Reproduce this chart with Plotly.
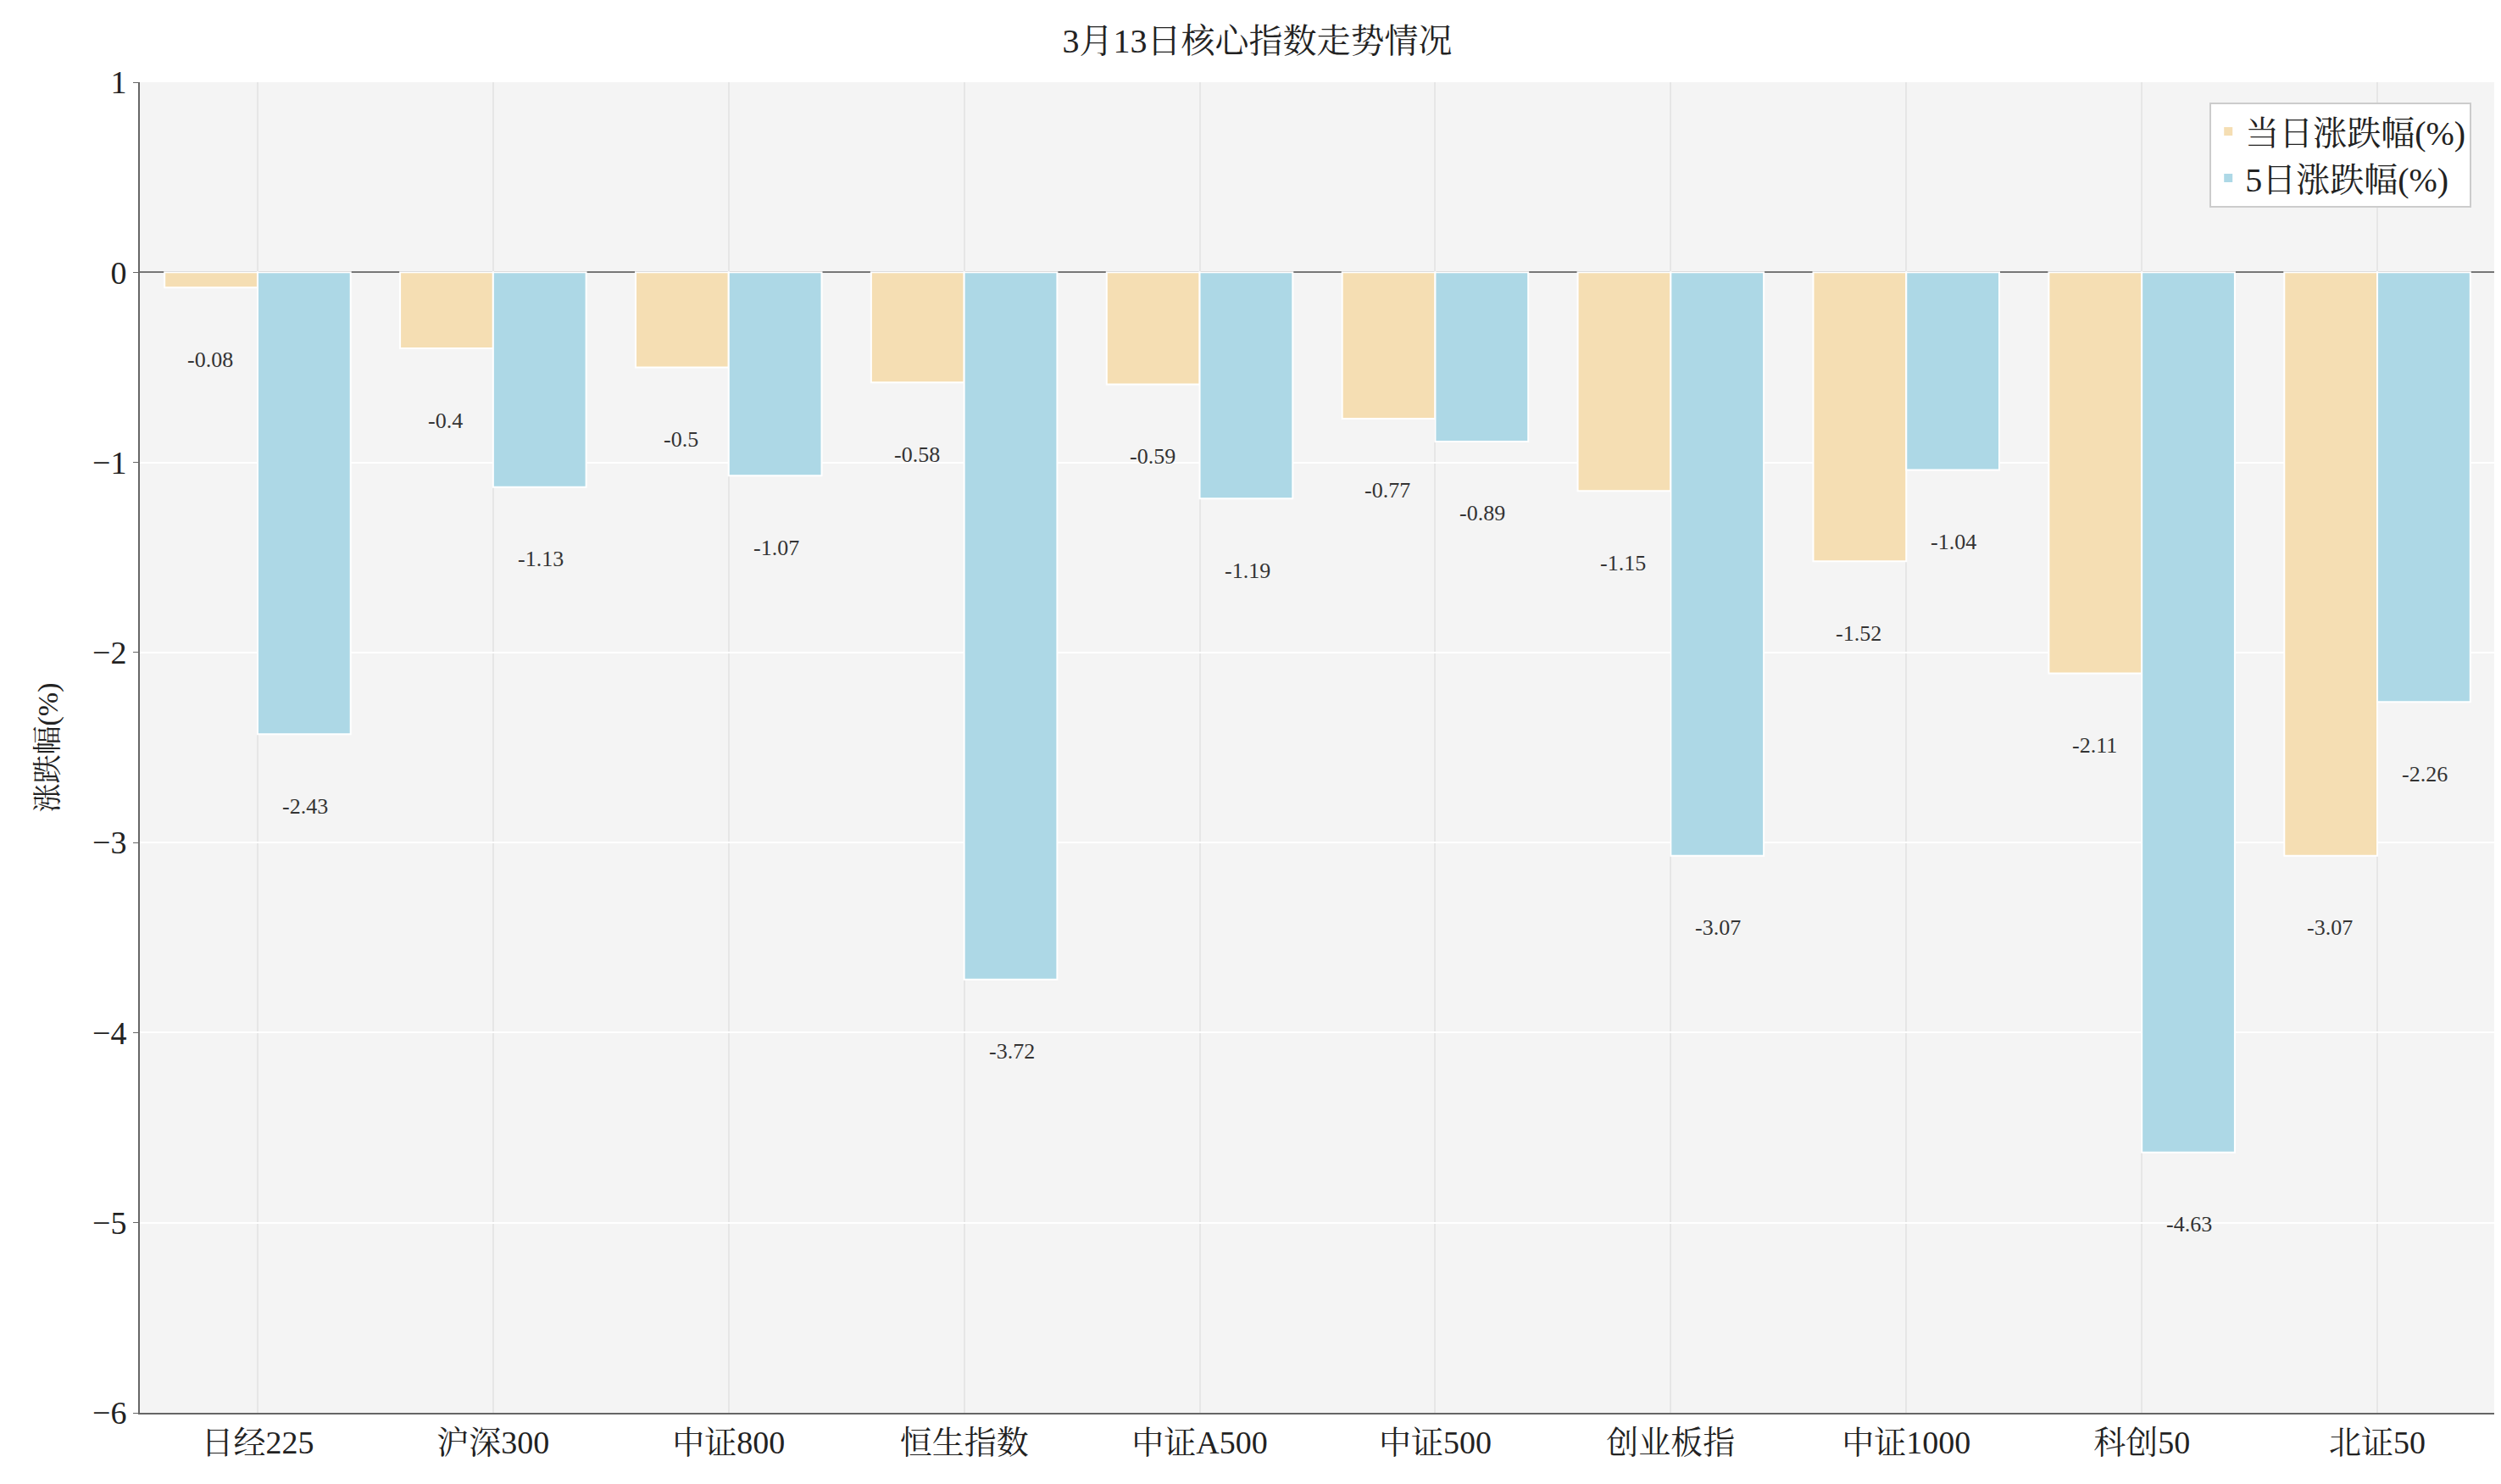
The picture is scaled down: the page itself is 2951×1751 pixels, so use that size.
import plotly.graph_objects as go

categories = ["日经225", "沪深300", "中证800", "恒生指数", "中证A500", "中证500", "创业板指", "中证1000", "科创50", "北证50"]
day_change = [-0.08, -0.4, -0.5, -0.58, -0.59, -0.77, -1.15, -1.52, -2.11, -3.07]
five_day_change = [-2.43, -1.13, -1.07, -3.72, -1.19, -0.89, -3.07, -1.04, -4.63, -2.26]

FONT = "Liberation Serif, Noto Serif CJK SC, Noto Sans CJK SC"

fig = go.Figure()
fig.add_trace(go.Bar(x=categories, y=day_change, name="当日涨跌幅(%)",
                     marker=dict(color="#f5deb3", line=dict(color="white", width=2))))
fig.add_trace(go.Bar(x=categories, y=five_day_change, name="5日涨跌幅(%)",
                     marker=dict(color="#add8e6", line=dict(color="white", width=2))))

for cat, v in zip(categories, day_change):
    fig.add_annotation(x=cat, y=v, xshift=-56, yshift=-85, text=str(v), showarrow=False,
                       font=dict(size=26, color="#333"))
for cat, v in zip(categories, five_day_change):
    fig.add_annotation(x=cat, y=v, xshift=56, yshift=-85, text=str(v), showarrow=False,
                       font=dict(size=26, color="#333"))

fig.update_layout(
    width=2951, height=1751,
    margin=dict(l=157, r=15, t=89, b=92),
    paper_bgcolor="white", plot_bgcolor="#f4f4f4",
    font=dict(family=FONT, size=38, color="#222"),
    title=dict(text="3月13日核心指数走势情况", x=0.5, xanchor="center", y=0.985, yanchor="top",
               font=dict(size=40)),
    barmode="group", bargap=0.21, bargroupgap=0,
    legend=dict(x=0.99, y=0.985, xanchor="right", yanchor="top", bgcolor="white",
                bordercolor="#ccc", borderwidth=2, font=dict(size=40)),
)
fig.update_xaxes(showgrid=True, gridcolor="#e6e6e6", gridwidth=2, showline=True,
                 linecolor="#666", linewidth=2, ticks="", tickfont=dict(size=38))
fig.update_yaxes(range=[-6, 1], dtick=1, showgrid=True, gridcolor="white", gridwidth=2,
                 showline=True, linecolor="#666", linewidth=2, zeroline=True,
                 zerolinecolor="#777", zerolinewidth=2, ticks="outside", ticklen=6,
                 tickcolor="#666", title=dict(text="涨跌幅(%)", font=dict(size=34), standoff=30))

fig.write_html("out.html")
